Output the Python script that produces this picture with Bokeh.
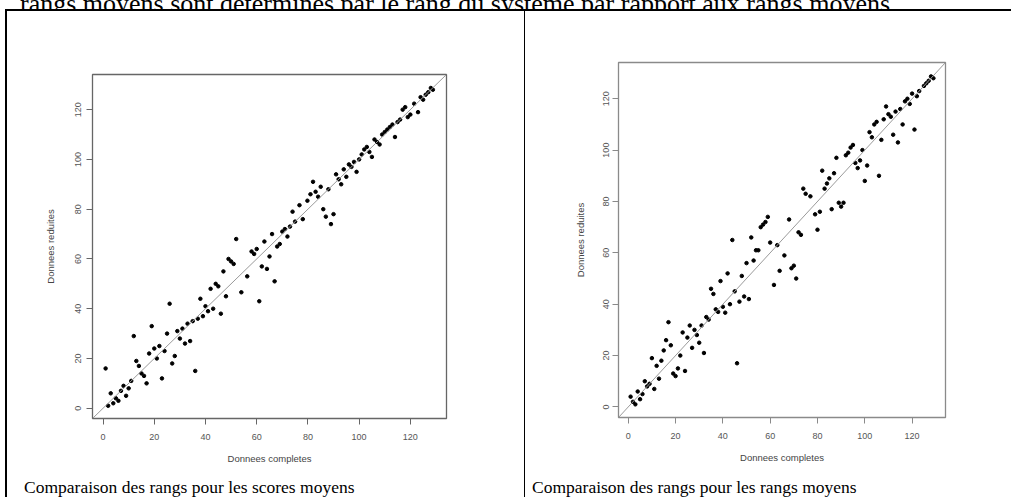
from bokeh.plotting import figure
from bokeh.layouts import column, row
from bokeh.models import (Range1d, FixedTicker, Slope, Div, Spacer, ColumnDataSource)
from bokeh.embed import file_html
from bokeh.resources import INLINE

# ---------------- data ----------------
header_text = "rangs moyens sont déterminés par le rang du système par rapport aux rangs moyens."
caption_left = "Comparaison des rangs pour les scores moyens"
caption_right = "Comparaison des rangs pour les rangs moyens"
x_label = "Donnees completes"
y_label = "Donnees reduites"
tick_values = [0, 20, 40, 60, 80, 100, 120]

# left panel : ranks, mean scores
scores_x = [1, 2, 3, 4, 5, 6, 7, 8, 9, 10, 11, 12, 13, 14, 15, 16, 17, 18, 19, 20,
            21, 22, 23, 24, 25, 26, 27, 28, 29, 30, 31, 32, 33, 34, 35, 36, 37, 38, 39, 40,
            41, 42, 43, 44, 45, 46, 47, 48, 49, 50, 51, 52, 54, 56.3, 58, 59, 60, 61, 62, 63,
            64, 65, 66, 67, 68, 69, 70, 71, 72, 73, 74, 75, 76.7, 78, 79.8, 81, 82, 83, 84, 85,
            86, 87, 88, 89, 90, 91, 92, 93, 94, 95, 96, 97, 98, 99, 100, 101, 102, 103, 104, 105,
            106, 107, 108, 109, 110, 111, 112, 113, 114, 115, 116, 117, 118, 119, 120, 121.5, 123, 124, 125, 126,
            127, 128, 128.8]
scores_y = [16, 1, 6, 2, 4, 3, 7, 9, 5, 8, 11, 29, 19, 17, 14, 13, 10, 22, 33, 24,
            20, 25, 12, 23, 30, 42, 18, 21, 31, 28, 32, 26, 34, 27, 35, 15, 36, 44, 37, 41,
            39, 48, 40, 50, 49, 38, 55, 45, 60, 59, 58, 68, 46.6, 53, 63, 62, 64, 43, 57, 67,
            56, 61, 70, 51, 65, 66, 71, 72, 69, 73, 79, 75, 81.6, 76, 83.4, 86, 91, 87, 85, 89,
            80, 77, 88, 74, 78, 94, 92, 90, 96, 93, 98, 97, 99, 95, 100, 102, 104, 105, 103, 101,
            108, 107, 106, 110, 111, 112, 113, 114, 109, 115, 116, 120, 121, 117, 118, 122.4, 119, 125, 124, 126,
            127, 128.7, 128]

# right panel : ranks, mean ranks
ranks_x = [1, 2, 3, 4, 5, 6, 7, 8, 9, 10, 11, 12, 13, 14, 15, 16, 17, 18, 19, 20,
           21, 22, 23, 24, 25, 26, 27, 28, 29, 30, 31, 32, 33, 34, 35, 36, 37, 38, 39, 40,
           41, 42, 43, 44, 45, 46, 47, 48, 49, 50, 51, 52, 53, 54, 55, 56, 57, 58, 59, 60,
           61.6, 63, 64, 66, 68, 69, 70, 71, 72, 73, 74, 75, 77, 79, 80, 81, 82, 83, 84, 85,
           86, 87, 88, 89, 90, 91, 92, 93, 94, 95, 96, 97, 98, 99, 100, 101, 102, 103, 104, 105,
           106, 107, 108, 109, 110, 111, 112, 113, 114, 115, 116, 117, 118, 119, 120, 121, 122, 123, 125, 126,
           127, 128, 129]
ranks_y = [4, 2, 1, 6, 3, 5, 10, 8, 9, 19, 7, 16, 11, 18, 22, 26, 33, 24, 13, 12,
           15, 20, 29, 14, 27, 31.7, 23, 30, 28, 25, 31.7, 21, 35, 34, 46, 44, 38, 37, 49, 39,
           36.7, 52, 40, 65, 45, 17, 41, 51, 43, 56, 42, 66, 57, 61, 61, 70, 71, 72, 74, 64,
           47.5, 63, 53, 59, 73, 54, 55, 50, 68, 67, 85, 83, 82, 75, 69, 76, 92, 85, 87, 89,
           77, 91, 97, 79.5, 78, 79.5, 98, 99, 101, 102, 95, 93, 96, 100, 88, 94, 107, 105, 110, 111,
           90, 104, 112, 117, 114, 113, 106, 115, 103, 116, 110, 119, 120, 118, 122, 108, 121, 123, 125, 126,
           127, 128.7, 128]

LO, HI = 1 - 0.04 * 128, 129 + 0.04 * 128   # R default 4% extension


def r_scatter(width, height, left, right, top, bottom, xs, ys,
              box_color, ylab_standoff, ytick_standoff):
    p = figure(width=width, height=height, output_backend="svg", toolbar_location=None,
               x_range=Range1d(LO, HI), y_range=Range1d(LO, HI),
               min_border_left=left, min_border_right=right,
               min_border_top=top, min_border_bottom=bottom,
               background_fill_color="white", border_fill_color="white", margin=0)
    p.outline_line_color = box_color
    p.outline_line_width = 1.3
    p.grid.visible = False
    for ax in (p.xaxis[0], p.yaxis[0]):
        ax.ticker = FixedTicker(ticks=tick_values)
        ax.axis_line_color = None
        ax.major_tick_line_color = box_color
        ax.major_tick_in = 0
        ax.major_tick_out = 6
        ax.minor_tick_line_color = None
        ax.major_label_text_font = "Liberation Sans"
        ax.major_label_text_font_size = "9px"
        ax.major_label_text_color = "#555555"
        ax.axis_label_text_font = "Liberation Sans"
        ax.axis_label_text_font_size = "9.5px"
        ax.axis_label_text_font_style = "normal"
        ax.axis_label_text_color = "#444444"
    p.xaxis.axis_label = x_label
    p.yaxis.axis_label = y_label
    p.xaxis.major_label_standoff = 9
    p.xaxis.axis_label_standoff = 10
    p.yaxis.major_label_orientation = "vertical"
    p.yaxis.major_label_standoff = ytick_standoff
    p.yaxis.axis_label_standoff = ylab_standoff

    p.add_layout(Slope(gradient=1, y_intercept=0, line_color="#9a9a9a", line_width=1))
    src = ColumnDataSource(dict(x=xs, y=ys))
    p.scatter("x", "y", source=src, size=3.5, color="black")
    return p


def caption_div(text, width, pad):
    return Div(text=('<div style="margin-left:%dpx;white-space:nowrap;'
                     'font-family:\'Liberation Serif\';font-size:17.5px;line-height:20px;'
                     'color:black">%s</div>') % (pad, text),
               width=width, height=20, margin=0)


p_left = r_scatter(517, 466, 85, 78, 63, 59, scores_x, scores_y, "#666666", 17, 5)
p_right = r_scatter(486, 466, 93, 66, 51, 60, ranks_x, ranks_y, "#8a8a8a", 15, 3)

cell_left = column(p_left, caption_div(caption_left, 517, 17), margin=0)
cell_right = column(p_right, caption_div(caption_right, 486, 7), margin=0)

top = Div(text=('<div style="margin-top:-18px;margin-left:20px;white-space:nowrap;'
                'font-family:\'Liberation Serif\';font-size:26px;line-height:26px;color:black">'
                + header_text + '</div>'),
          width=1011, height=9, margin=0, styles={"overflow": "hidden"})

hline = row(Spacer(width=5, height=2, margin=0),
            Div(text="", width=1006, height=2, margin=0, styles={"background-color": "black"}),
            margin=0)
main = row(Spacer(width=5, height=486, margin=0),
           Div(text="", width=2, height=486, margin=0, styles={"background-color": "black"}),
           cell_left,
           Div(text="", width=1, height=486, margin=0, styles={"background-color": "black"}),
           cell_right, margin=0)

layout = column(top, hline, main, margin=0)

open("out.html", "w").write(file_html(layout, INLINE))
